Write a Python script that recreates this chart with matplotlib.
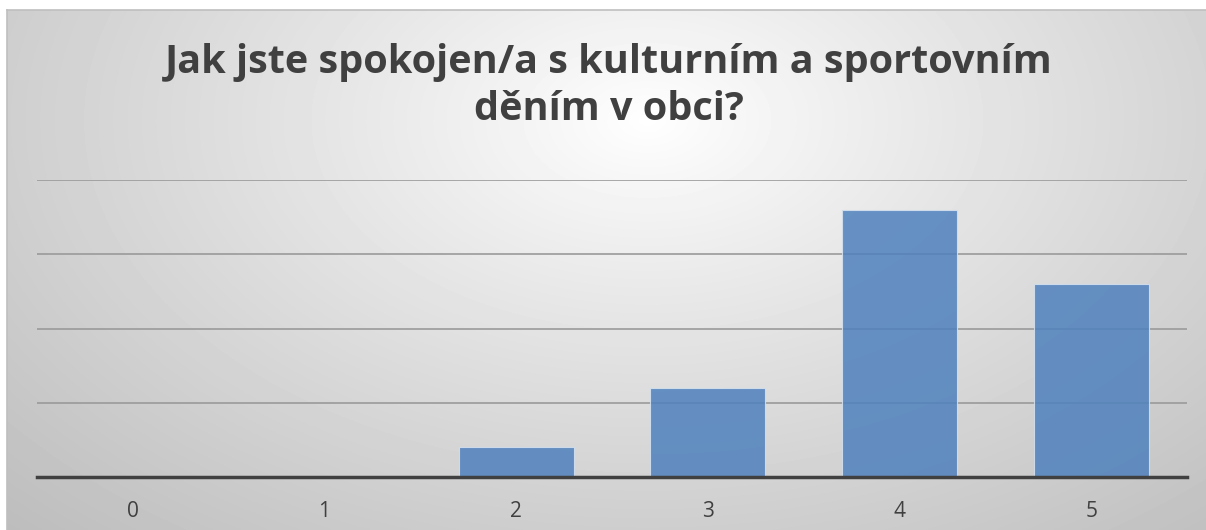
"""
Spokojenost s kulturnim a sportovnim denim v obci - sloupcovy graf
"""
import numpy as np
import matplotlib.pyplot as plt
from matplotlib.lines import Line2D

# ============================================================================
# DATA
# ============================================================================
kategorie = ['0', '1', '2', '3', '4', '5']
pocty = [0, 0, 2, 6, 18, 13]
title = 'Jak jste spokojen/a s kulturním a sportovním\nděním v obci?'

W, H = 1206, 530
fig = plt.figure(figsize=(W / 100, H / 100), dpi=100)
fig.patch.set_facecolor('white')

# ============================================================================
# POZADI - radialni gradient
# ============================================================================
bg = fig.add_axes([7 / W, 0, 1 - 7 / W, 1 - 10 / H], zorder=0)
yy, xx = np.mgrid[0:520, 0:1199]
cx, cy = 640, 110
d = np.sqrt(((xx - cx) / 1.0) ** 2 + ((yy - cy) * 1.6) ** 2)
d = d / d.max()
val = 1.0 - 0.26 * np.clip(d, 0, 1) ** 0.9
bg.imshow(val, cmap='gray', vmin=0, vmax=1, aspect='auto', interpolation='bilinear')
bg.set_axis_off()

fig.add_artist(Line2D([7 / W, 1], [1 - 10 / H, 1 - 10 / H], color='#bfbfbf', lw=1.2, transform=fig.transFigure))
fig.add_artist(Line2D([7 / W, 7 / W], [0, 1 - 10 / H], color='#bfbfbf', lw=1.2, transform=fig.transFigure))

# ============================================================================
# GRAF
# ============================================================================
ax = fig.add_axes([37 / W, 53 / H, 1150 / W, 297 / H], zorder=2)
ax.patch.set_alpha(0)
x = np.arange(len(kategorie))
ax.bar(x, pocty, width=0.6, color='#4f81bd', alpha=0.85, edgecolor='#d6e2f0', linewidth=0.8, zorder=3)
ax.set_xlim(-0.5, len(kategorie) - 0.5)
ax.set_ylim(0, 20)
ax.set_yticks([5, 10, 15, 20])
ax.yaxis.grid(True, color='#9a9a9a', linewidth=1.2, zorder=1)
ax.set_axisbelow(True)
ax.tick_params(axis='y', left=False, labelleft=False)
ax.tick_params(axis='x', bottom=False, labelsize=15, labelcolor='#404040', pad=14)
ax.set_xticks(x)
ax.set_xticklabels(kategorie, family=['Open Sans', 'DejaVu Sans'])
for s in ['top', 'right', 'left']:
    ax.spines[s].set_visible(False)
ax.spines['bottom'].set_color('#404040')
ax.spines['bottom'].set_linewidth(2.5)
ax.spines['bottom'].set_zorder(4)

fig.text(0.505, 1 - 86 / H, title, ha='center', va='center', fontsize=28.5, fontweight='bold',
         color='#404040', family=['Open Sans', 'DejaVu Sans'], linespacing=1.3, zorder=5)

plt.savefig('out.png', dpi=100)
plt.close()
